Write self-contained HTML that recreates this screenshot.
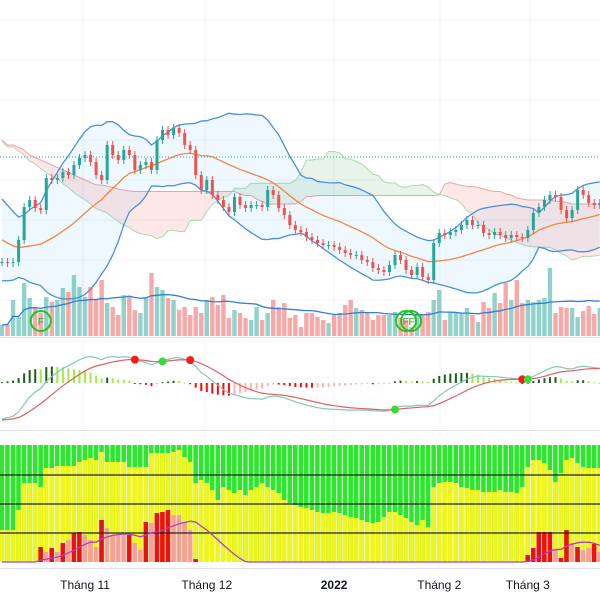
<!DOCTYPE html>
<html><head><meta charset="utf-8"><style>
html,body{margin:0;padding:0;background:#fff;}
svg{display:block;font-family:"Liberation Sans",sans-serif;}
</style></head><body>
<svg id="chart" width="600" height="600" viewBox="0 0 600 600" xmlns="http://www.w3.org/2000/svg"></svg>
<script>
// ---- data ----
const priorCloses = [150,155,160,170,175,180,175,170,172,165,160,150,155,145,140,130,135,125,120,110,105,100,95,90,85,80,75,70,65,60,55,50,52,48,45,42,40,38,37,38];
const closes = [38,37,38,60,93,100,92,90,122,120,
122,128,125,135,142,145,138,125,120,155,
145,140,150,145,130,135,138,130,160,170,
165,172,167,155,150,125,110,120,105,100,
93,88,103,95,92,95,95,93,110,105,
92,85,75,70,68,63,60,57,55,55,
53,50,47,45,45,40,38,32,30,28,
35,45,40,30,25,33,23,20,57,67,
65,68,70,75,80,75,75,67,65,68,
65,62,65,63,62,70,87,93,100,105,
103,90,82,90,110,105,97,95,97];
const volumes = [11,12,36,19,53,38,29,23,39,34,36,48,44,61,49,39,49,36,56,33,29,21,41,39,26,23,38,63,49,46,38,36,26,29,21,29,23,36,39,31,41,18,26,23,18,16,29,16,23,36,29,33,18,21,
9,23,23,19,16,13,21,23,31,36,28,26,23,16,21,21,21,24,18,16,9,21,21,24,36,46,16,24,24,23,28,21,14,34,28,43,33,53,36,56,33,36,34,36,38,68,23,29,28,28,19,25,30,22,28];
const yellowVals = [32,32,32,52,79,79,79,75,94,94,96,96,96,96,100,102,104,102,110,100,100,100,100,95,95,95,95,109,109,109,109,110,112,105,100,
79,82,79,72,62,75,72,69,72,67,72,75,79,75,72,69,62,59,57,55,54,52,50,49,49,50,49,47,45,44,42,40,39,40,45,50,50,47,44,40,37,42,35,
75,79,80,80,79,75,74,72,72,70,70,70,72,70,70,69,75,95,102,102,99,92,80,89,102,104,99,95,94,94,94];
const redVals = [0,0,0,0,0,0,0,15,10,14,10,19,22,29,30,27,22,15,42,34,27,27,27,27,19,12,40,39,49,50,52,47,47,40,32,3,
0,0,0,0,0,0,0,0,0,0,
0,0,0,0,0,0,0,0,0,0,
0,0,0,0,0,0,0,0,0,0,
0,0,0,0,0,0,0,0,0,0,
0,0,0,0,0,0,0,0,0,0,
0,0,0,0,0,0,0,0,0,
7,14,30,30,30,12,4,32,19,15,12,14,18,10];
const redKinds = ".......rprprprrpppr" + "pppprpprprrrppppr" + ".".repeat(59) + "rrrrrprrprpprp";
const axisLabels = ["Tháng 11","Tháng 12","2022","Tháng 2","Tháng 3"];
const axisLabelBars = [15,37,60,79,95];
const fMarks = [[7,"F"],[73,"FF"]];

const svg = document.getElementById('chart');
const NS = "http://www.w3.org/2000/svg";
const N = closes.length;
const step = 600/(N-1);
function xB(i){return 2+i*step*0.9963;}
function yP(p){return 300-p;}
function yV(v){return 336-v;}
function yS(v){return 562-v;}
function mk(tag, attrs, name, parent){
  const e=document.createElementNS(NS,tag);
  for(const k in attrs) e.setAttribute(k,attrs[k]);
  
  
  (parent||svg).appendChild(e); return e;
}
// grid
for(let y=20;y<=300;y+=40){ mk('line',{x1:0,x2:600,y1:y,y2:y,stroke:'#f0f3fa','stroke-width':1},'grid-line-h'); }
[83,205,334,440,530].forEach(x=>{ mk('line',{x1:x,x2:x,y1:0,y2:568,stroke:'#f0f3fa','stroke-width':1},'grid-line-v'); });
mk('line',{x1:0,x2:600,y1:337.5,y2:337.5,stroke:'#e0e3eb','stroke-width':1},'pane-separator');
mk('line',{x1:0,x2:600,y1:430.5,y2:430.5,stroke:'#e0e3eb','stroke-width':1},'pane-separator');
mk('line',{x1:0,x2:600,y1:568.5,y2:568.5,stroke:'#e0e3eb','stroke-width':1},'time-axis-border');

const all = priorCloses.concat(closes);
const P = priorCloses.length;
// ichimoku
function midHL(end,len){let s=Math.max(0,end-len+1),hi=-1e9,lo=1e9;for(let k=s;k<=end;k++){hi=Math.max(hi,all[k]+3);lo=Math.min(lo,all[k]-3);}return (hi+lo)/2;}
const spanA=[],spanB=[];
for(let i=0;i<N;i++){const src=P+i-26; if(src<0){spanA.push(null);spanB.push(null);continue;}
  spanA.push((midHL(src,9)+midHL(src,26))/2); spanB.push(midHL(src,52));}
for(let i=0;i<N-1;i++){ if(spanA[i]==null) continue;
  const up=spanA[i]>=spanB[i];
  mk('polygon',{points:`${xB(i)},${yP(spanA[i])} ${xB(i+1)},${yP(spanA[i+1])} ${xB(i+1)},${yP(spanB[i+1])} ${xB(i)},${yP(spanB[i])}`,fill:up?'rgba(67,160,71,0.12)':'rgba(244,67,54,0.12)',stroke:'none'},'ichimoku-cloud');
}
let pa='',pb='';
for(let i=0;i<N;i++){ if(spanA[i]==null) continue; pa+=(pa?'L':'M')+xB(i)+','+yP(spanA[i]); pb+=(pb?'L':'M')+xB(i)+','+yP(spanB[i]); }
mk('path',{d:pa,fill:'none',stroke:'rgba(165,214,167,0.9)','stroke-width':1},'senkou-span-a');
mk('path',{d:pb,fill:'none',stroke:'rgba(239,154,154,0.9)','stroke-width':1},'senkou-span-b');
// bollinger
const mid=[],upB=[],loB=[];
for(let i=0;i<N;i++){const e=P+i;let s=0;for(let k=e-19;k<=e;k++)s+=all[k];const m=s/20;let v=0;for(let k=e-19;k<=e;k++)v+=(all[k]-m)**2;const sd=Math.sqrt(v/20);mid.push(m);upB.push(m+2*sd);loB.push(m-2*sd);}
let band='';for(let i=0;i<N;i++)band+=(i?'L':'M')+xB(i)+','+yP(upB[i]);for(let i=N-1;i>=0;i--)band+='L'+xB(i)+','+yP(loB[i]);
mk('path',{d:band+'Z',fill:'rgba(33,150,243,0.07)',stroke:'none'},'bollinger-fill');
function line(arr,fn,color,name,w){let d='';arr.forEach((v,i)=>{if(v==null)return;d+=(d?'L':'M')+xB(i)+','+fn(v);});mk('path',{d:d,fill:'none',stroke:color,'stroke-width':w||1.3},name);}
line(upB,yP,'#4a90d9','bollinger-upper');
line(loB,yP,'#4a90d9','bollinger-lower');
line(mid,yP,'#f0883e','bollinger-basis');
mk('line',{x1:0,x2:600,y1:157,y2:157,stroke:'#26a69a','stroke-width':1,'stroke-dasharray':'1 2'},'price-line');
// volume
for(let i=0;i<N;i++){const prev=i?closes[i-1]:all[P-1];const up=closes[i]>=prev;
  mk('rect',{x:xB(i)-2.2,y:yV(volumes[i]),width:4.4,height:volumes[i],fill:up?'rgba(38,166,154,0.5)':'rgba(239,83,80,0.5)'},'volume-bar');}
const vma=volumes.map((v,i)=>{let s=0,c=0;for(let k=Math.max(0,i-19);k<=i;k++){s+=volumes[k];c++;}return s/c;});
line(vma,yV,'#2f7fd8','volume-ma',1.3);
// candles
for(let i=0;i<N;i++){const o=i?closes[i-1]:all[P-1];const c=closes[i];const up=c>=o;const col=up?'#26a69a':'#ef5350';
  const hi=Math.max(o,c)+4,lo=Math.min(o,c)-4;
  mk('line',{x1:xB(i),x2:xB(i),y1:yP(hi),y2:yP(lo),stroke:col,'stroke-width':1},'candle-wick');
  mk('rect',{x:xB(i)-1.5,y:yP(Math.max(o,c)),width:3,height:Math.max(1,Math.abs(c-o)),fill:col},'candle-body');}
fMarks.forEach(m=>{const x=xB(m[0]);
  mk('circle',{cx:x,cy:321,r:10,fill:'none',stroke:'#22c322','stroke-width':2},'signal-marker');
  if(m[1]=='FF'){mk('circle',{cx:x+5,cy:321,r:10,fill:'none',stroke:'#22c322','stroke-width':2},'signal-marker');}
  const t=mk('text',{x:m[1]=='FF'?x+2.5:x,y:325,'font-size':10,'text-anchor':'middle',fill:'#22a322'},'signal-label');t.textContent=m[1];});
// MACD
function ema(arr,n){const a=2/(n+1);const out=[];let e=arr[0];arr.forEach((v,i)=>{e=i?a*v+(1-a)*e:v;out.push(e);});return out;}
const e12=ema(all,12),e26=ema(all,26);const macdAll=e12.map((v,i)=>v-e26[i]);const sigAll=ema(macdAll,9);
const macd=macdAll.slice(P),sig=sigAll.slice(P);
let mx=0;macd.forEach(v=>mx=Math.max(mx,Math.abs(v)));const k=36/mx;
function yM(v){return 383-v*k;}
for(let i=0;i<N;i++){const h=macd[i]-sig[i];const hp=i?macd[i-1]-sig[i-1]:h;let col;
  if(h>=0)col=h>=hp?'#1e5e1e':'#a5e84a';else col=h<hp?'#ee1111':'#ffb3b3';
  const y1=yM(0),y2=383-h*k*0.9;
  mk('rect',{x:xB(i)-1,y:Math.min(y1,y2),width:2,height:Math.max(1,Math.abs(y2-y1)),fill:col},'macd-histogram-bar');}
line(macd,yM,'#80c9b5','macd-line',1.2);
line(sig,yM,'#e06060','signal-line',1.2);
for(let i=1;i<N;i++){const d0=macd[i-1]-sig[i-1],d1=macd[i]-sig[i];
  if(d0>0&&d1<=0)mk('circle',{cx:xB(i),cy:yM(sig[i]),r:4,fill:'#ff1a1a'},'macd-cross-down');
  if(d0<0&&d1>=0)mk('circle',{cx:xB(i),cy:yM(sig[i]),r:4,fill:'#33dd33'},'macd-cross-up');}
// bottom oscillator
for(let i=0;i<N;i++){const x=xB(i)-2.4;
  mk('rect',{x:x,y:445,width:4.6,height:117,fill:'#2ee62e'},'oscillator-green-bar');
  mk('rect',{x:x,y:yS(yellowVals[i]),width:4.6,height:yellowVals[i],fill:'#f0f51a'},'oscillator-yellow-bar');
  if(redVals[i]>0)mk('rect',{x:x,y:yS(redVals[i]),width:4.6,height:redVals[i],fill:redKinds[i]=='r'?'#ee1111':'#f7a09a'},'oscillator-red-bar');}
[475,504,533].forEach(y=>mk('line',{x1:0,x2:600,y1:y,y2:y,stroke:'#222','stroke-width':1.2},'oscillator-level'));
const rma=redVals.map((v,i)=>{let s=0,c=0;for(let j=Math.max(0,i-9);j<=i;j++){s+=redVals[j];c++;}return s/c;});
line(rma,yS,'#b040c0','oscillator-ma',1.3);
// axis labels
axisLabels.forEach((t,i)=>{const e=mk('text',{x:xB(axisLabelBars[i]),y:589,'font-size':12,'text-anchor':'middle',fill:'#131722','font-weight':t=='2022'?'bold':'normal'},'time-axis-label');e.textContent=t;});
</script>
</body></html>
